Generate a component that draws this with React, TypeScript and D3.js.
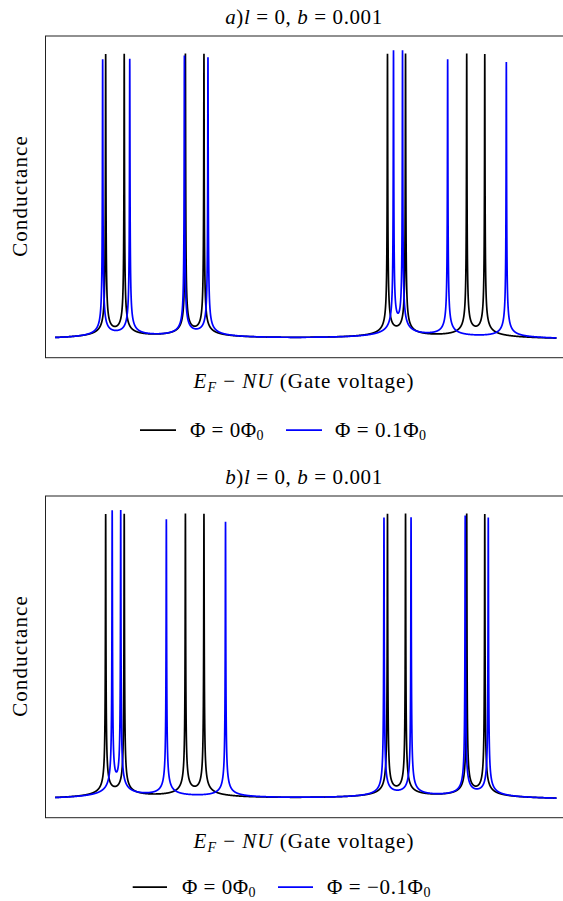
import React from 'react';
import * as d3 from 'd3';

// Peak positions (energy units, 0..100 across the sweep) and heights
const blackPeaks = [10.1, 13.8, 26.0, 29.7, 66.3, 69.9, 82.1, 85.7];
const blackHeights = [1, 1, 1, 1, 1, 1, 1, 1];
const blueAPeaks = [9.5, 14.9, 25.8, 30.5, 67.5, 69.3, 78.3, 90.0];
const blueAHeights = [0.985, 0.985, 0.995, 0.99, 1.0, 1.0, 0.985, 0.98];
const blueBPeaks = [11.4, 13.1, 22.2, 34.0, 65.6, 71.0, 81.8, 86.4];
const blueBHeights = [1.0, 1.0, 0.985, 0.98, 0.99, 0.99, 0.995, 0.99];
const peakWidth = 0.04;
const energyRange = [0, 100];
const xDomain = [-2, 101.4];
const yDomain = [-0.06, 1.082];

const titles = ['a', 'b'];
const legendBlue = ['0.1', '\u22120.1'];

const FONT = "'Liberation Serif', 'DejaVu Serif', serif";

function curve(peaks: number[], heights: number[]) {
  const es: number[] = [];
  const n = 10000;
  for (let i = 0; i <= n; i++) es.push(energyRange[0] + ((energyRange[1] - energyRange[0]) * i) / n);
  peaks.forEach((p) => es.push(p));
  es.sort((a, b) => a - b);
  return es.map((e) => {
    let v = 0;
    peaks.forEach((p, k) => {
      v += (heights[k] * peakWidth) / Math.sqrt((e - p) * (e - p) + peakWidth * peakWidth);
    });
    return [e, v] as [number, number];
  });
}

const W = 563;
const frameLeft = 45;
const frameRight = 563.5;
const frameH = 321.7;

function Panel({ top, idx, bluePeaks, blueHeights }: { top: number; idx: number; bluePeaks: number[]; blueHeights: number[] }) {
  const ft = top;
  const fb = top + frameH;
  const x = d3.scaleLinear().domain(xDomain).range([frameLeft, frameRight]);
  const y = d3.scaleLinear().domain(yDomain).range([fb, ft]);
  const line = d3.line<[number, number]>().x((d) => x(d[0])).y((d) => y(d[1]));
  const blackPath = line(curve(blackPeaks, blackHeights)) || '';
  const bluePath = line(curve(bluePeaks, blueHeights)) || '';
  const cx = 304;
  const legY = idx === 0 ? fb + 79 : fb + 76;
  const legLineY = legY - 6.5;
  return (
    <g>
      <defs>
        <clipPath id={`clip${idx}`}>
          <rect x={frameLeft} y={ft} width={frameRight - frameLeft} height={frameH} />
        </clipPath>
      </defs>
      <g clipPath={`url(#clip${idx})`}>
        <path d={blackPath} fill="none" stroke="#000" strokeWidth={1.7} />
        <path d={bluePath} fill="none" stroke="#0000ff" strokeWidth={1.7} />
      </g>
      <rect x={frameLeft + 0.5} y={ft} width={frameRight - frameLeft} height={frameH} fill="none" stroke="#222" strokeWidth={1} />
      <text x={cx} y={ft - 12} textAnchor="middle" fontSize={21} letterSpacing={0.6} fontFamily={FONT}>
        <tspan fontStyle="italic">{titles[idx]}</tspan>
        <tspan>)</tspan>
        <tspan fontStyle="italic">l</tspan>
        <tspan> = 0, </tspan>
        <tspan fontStyle="italic">b</tspan>
        <tspan> = 0.001</tspan>
      </text>
      <text transform={`translate(27,${ft + 160}) rotate(-90)`} textAnchor="middle" fontSize={21} letterSpacing={1.1} fontFamily={FONT}>
        Conductance
      </text>
      <text x={cx} y={fb + 30} textAnchor="middle" fontSize={21} letterSpacing={1} fontFamily={FONT}>
        <tspan fontStyle="italic">E</tspan>
        <tspan fontStyle="italic" fontSize={14} dy={4}>F</tspan>
        <tspan dy={-4}> − </tspan>
        <tspan fontStyle="italic">NU</tspan>
        <tspan> (Gate voltage)</tspan>
      </text>
      {/* legend */}
      <line x1={idx === 0 ? 140 : 132.7} x2={idx === 0 ? 176 : 167} y1={legLineY} y2={legLineY} stroke="#000" strokeWidth={1.7} />
      <text x={idx === 0 ? 190 : 182} y={legY} fontSize={21} letterSpacing={0.5} fontFamily={FONT}>
        <tspan>Φ = 0Φ</tspan>
        <tspan fontSize={14} dy={3.5}>0</tspan>
      </text>
      <line x1={idx === 0 ? 286 : 278} x2={idx === 0 ? 322 : 313} y1={legLineY} y2={legLineY} stroke="#0000ff" strokeWidth={1.7} />
      <text x={idx === 0 ? 335 : 327} y={legY} fontSize={21} letterSpacing={0.6} fontFamily={FONT}>
        <tspan>Φ = {legendBlue[idx]}Φ</tspan>
        <tspan fontSize={14} dy={3.5}>0</tspan>
      </text>
    </g>
  );
}

export default function App() {
  return (
    <svg width={W} height={901} style={{ position: 'absolute', left: 0, top: 0, background: '#fff' }}>
      <rect x={0} y={0} width={W} height={901} fill="#fff" />
      <Panel top={36} idx={0} bluePeaks={blueAPeaks} blueHeights={blueAHeights} />
      <Panel top={496} idx={1} bluePeaks={blueBPeaks} blueHeights={blueBHeights} />
    </svg>
  );
}
